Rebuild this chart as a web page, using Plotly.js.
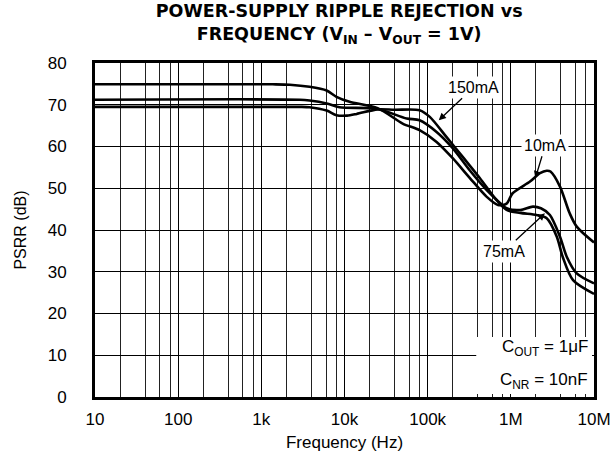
<!DOCTYPE html>
<html><head><meta charset="utf-8">
<script src="https://cdn.plot.ly/plotly-3.0.1.min.js"></script>
<style>html,body{margin:0;padding:0;background:#fff}#chart{width:610px;height:458px}</style>
</head><body><div id="chart"></div>
<script>
// Frequency (Hz) and PSRR (dB) for each load current
const freq10mA = [10, 1370, 2200, 3800, 6100, 8000, 11500, 25000, 50000, 80000, 128000, 200000, 320000, 510000, 700000, 890000, 1050000, 1700000, 2240000, 2700000, 3000000, 3900000, 5100000, 6200000, 10000000];
const psrr10mA = [74.9, 74.9, 74.8, 74.3, 73.4, 71.9, 70.7, 69.2, 65.5, 63.9, 61.1, 57.2, 52.5, 48.0, 46.0, 46.3, 48.8, 51.6, 53.6, 54.2, 54.0, 50.4, 44.0, 40.8, 37.0];

const freq75mA = [10, 2900, 3800, 6100, 8700, 25000, 56000, 80000, 128000, 200000, 320000, 510000, 740000, 890000, 1300000, 1840000, 2300000, 2950000, 3900000, 4700000, 6200000, 10000000];
const psrr75mA = [71.2, 71.2, 71.0, 70.3, 69.4, 69.0, 66.7, 66.3, 63.5, 59.6, 54.3, 49.6, 46.5, 45.2, 44.8, 45.6, 45.2, 43.6, 38.4, 33.6, 29.6, 27.2];

const freq150mA = [10, 2900, 3800, 6100, 8000, 10700, 14000, 25000, 40000, 80000, 106000, 168000, 264000, 425000, 670000, 890000, 1300000, 2040000, 2700000, 3570000, 4200000, 5600000, 10000000];
const psrr150mA = [69.5, 69.5, 69.4, 68.6, 67.5, 67.4, 67.8, 68.9, 68.8, 68.7, 67.1, 62.3, 57.5, 52.4, 47.2, 44.8, 44.1, 43.6, 42.8, 38.4, 33.6, 28.0, 24.7];

const xTickVals = [10, 100, 1e3, 1e4, 1e5, 1e6, 1e7];
const xTickText = ['10', '100', '1k', '10k', '100k', '1M', '10M'];
const minorMultipliers = [2, 4, 6, 8];
const minorVals = [];
xTickVals.slice(0, -1).forEach(d => minorMultipliers.forEach(m => minorVals.push(d * m)));

const FONT = 'Liberation Sans, Arial, Helvetica, sans-serif';
const TITLE_FONT = 'DejaVu Sans, Liberation Sans, Arial, sans-serif';
const lineStyle = {color: '#000', width: 2.6, shape: 'spline', smoothing: 0.8};

const traces = [
  {x: freq10mA, y: psrr10mA, name: '10mA', mode: 'lines', line: lineStyle},
  {x: freq75mA, y: psrr75mA, name: '75mA', mode: 'lines', line: lineStyle},
  {x: freq150mA, y: psrr150mA, name: '150mA', mode: 'lines', line: lineStyle}
];

const lbl = (text, f, v, ax, ay) => ({
  text: text, x: Math.log10(f), y: v, xref: 'x', yref: 'y', ax: ax, ay: ay,
  showarrow: true, arrowhead: 2, arrowsize: 1.1, arrowwidth: 1.3, arrowcolor: '#000',
  bgcolor: '#fff', borderpad: 2, font: {size: 16, color: '#000'}
});

const layout = {
  width: 610, height: 458,
  margin: {l: 95, r: 16, t: 63, b: 61},
  showlegend: false,
  paper_bgcolor: '#fff', plot_bgcolor: '#fff',
  font: {family: FONT, size: 16, color: '#000'},
  title: {
    text: 'POWER-SUPPLY RIPPLE REJECTION vs<br>FREQUENCY (V<sub>IN</sub> – V<sub>OUT</sub> = 1V)',
    font: {family: TITLE_FONT, size: 17.5, weight: 'bold', color: '#000'},
    xref: 'container', x: 0.556, xanchor: 'center',
    yref: 'container', y: 0.962, yanchor: 'top'
  },
  xaxis: {
    type: 'log', range: [1, 7],
    tickmode: 'array', tickvals: xTickVals, ticktext: xTickText,
    showgrid: true, gridcolor: '#000', gridwidth: 1,
    minor: {tickmode: 'array', tickvals: minorVals, showgrid: true, gridcolor: '#222', gridwidth: 1, ticks: ''},
    showline: true, linecolor: '#000', linewidth: 3, mirror: true,
    ticks: '', ticklabelstandoff: 5, ticklabeloverflow: 'allow', tickfont: {size: 17},
    zeroline: false,
    title: {text: 'Frequency (Hz)', font: {size: 17}, standoff: 8}
  },
  yaxis: {
    range: [0, 80], tickmode: 'linear', tick0: 0, dtick: 10,
    showgrid: true, gridcolor: '#000', gridwidth: 1,
    showline: true, linecolor: '#000', linewidth: 3, mirror: true,
    ticks: '', ticklabelstandoff: 22, tickfont: {size: 17},
    zeroline: false,
    title: {text: 'PSRR (dB)', font: {size: 16}, standoff: 18}
  },
  shapes: [
    {type: 'rect', xref: 'paper', yref: 'paper', x0: 0.764, x1: 0.996, y0: 0.009, y1: 0.18,
     fillcolor: '#fff', line: {width: 0}, layer: 'above'}
  ],
  annotations: [
    lbl('150mA', 136000, 66.3, 35, -33),
    lbl('10mA', 1970000, 52.4, 10, -33),
    lbl('75mA', 2570000, 44.0, -41, 38),
    {text: 'C<sub>OUT</sub> = 1μF', xref: 'paper', yref: 'paper', x: 0.992, y: 0.147,
     xanchor: 'right', yanchor: 'middle', showarrow: false, font: {size: 17, color: '#000'}},
    {text: 'C<sub>NR</sub> = 10nF', xref: 'paper', yref: 'paper', x: 0.992, y: 0.048,
     xanchor: 'right', yanchor: 'middle', showarrow: false, font: {size: 17, color: '#000'}}
  ]
};

Plotly.newPlot('chart', traces, layout, {staticPlot: true, displayModeBar: false});
</script>
</body></html>
